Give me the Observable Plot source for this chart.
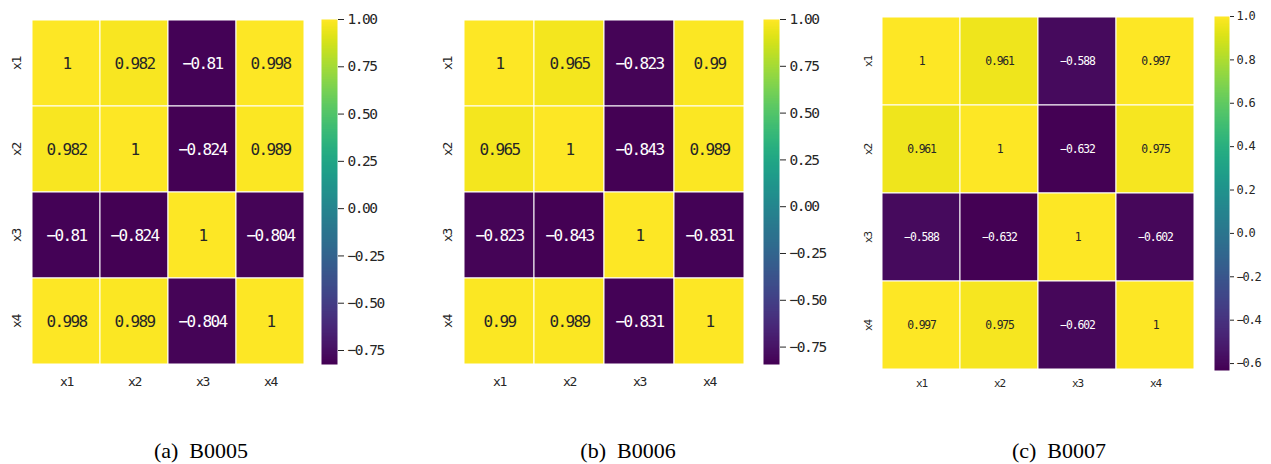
<!DOCTYPE html>
<html><head><meta charset="utf-8">
<script src="https://cdn.jsdelivr.net/npm/d3@7"></script>
<script src="https://cdn.jsdelivr.net/npm/@observablehq/plot@0.6"></script>
<style>
body{margin:0;background:#fff}
#root{position:relative;width:1271px;height:464px;overflow:hidden;background:#fff}
.p{position:absolute;top:0}
.p svg{overflow:visible;background:transparent}
.cap{position:absolute;top:440px;font-family:"Liberation Serif";font-size:22px;line-height:22px;white-space:pre;transform:translateX(-50%);color:#000}
</style></head><body><div id="root"></div>
<script>
// ---- data ----
const vars = ["x1", "x2", "x3", "x4"];
const corrB0005 = [
  [1, 0.982, -0.81, 0.998],
  [0.982, 1, -0.824, 0.989],
  [-0.81, -0.824, 1, -0.804],
  [0.998, 0.989, -0.804, 1]
];
const corrB0006 = [
  [1, 0.965, -0.823, 0.99],
  [0.965, 1, -0.843, 0.989],
  [-0.823, -0.843, 1, -0.831],
  [0.99, 0.989, -0.831, 1]
];
const corrB0007 = [
  [1, 0.961, -0.588, 0.997],
  [0.961, 1, -0.632, 0.975],
  [-0.588, -0.632, 1, -0.602],
  [0.997, 0.975, -0.602, 1]
];
const ticksAB = [1, 0.75, 0.5, 0.25, 0, -0.25, -0.5, -0.75];
const ticksC = [1, 0.8, 0.6, 0.4, 0.2, 0, -0.2, -0.4, -0.6];
const captions = ["(a)  B0005", "(b)  B0006", "(c)  B0007"];

// ---- layout ----
const panels = [
  {values: corrB0005, ticks: ticksAB, tfmt: ".2f", cap: captions[0], capX: 201,
   hm: {left: 0, width: 310, ml: 32, mr: 6, mt: 19, mb: 36, cell: 16, axis: 13, padX: 12, padY: 12},
   cb: {left: 300, width: 120, ml: 21, mr: 83, mt: 19, mb: 36, font: 14.5, tick: 6, pad: 4}},
  {values: corrB0006, ticks: ticksAB, tfmt: ".2f", cap: captions[1], capX: 628,
   hm: {left: 420, width: 330, ml: 43, mr: 5, mt: 19, mb: 36, cell: 16, axis: 13, padX: 12, padY: 12},
   cb: {left: 750, width: 120, ml: 13, mr: 91, mt: 19, mb: 36, font: 14.5, tick: 6, pad: 4}},
  {values: corrB0007, ticks: ticksC, tfmt: ".1f", cap: captions[2], capX: 1059,
   hm: {left: 840, width: 360, ml: 41, mr: 6, mt: 16, mb: 30, cell: 11.4, axis: 11, padX: 9, padY: 10},
   cb: {left: 1200, width: 71, ml: 14, mr: 42, mt: 16, mb: 30, font: 12, tick: 4, pad: 3}}
];

const root = document.getElementById("root");
const fmt = d3.format(".3~g");
const MONO = "'DejaVu Sans Mono', monospace";

function squeeze(svg) {
  svg.querySelectorAll("text").forEach(t => {
    const fs = parseFloat(getComputedStyle(t).fontSize);
    t.style.letterSpacing = (-0.1 * fs).toFixed(2) + "px";
  });
}
function place(el, left) {
  const d = document.createElement("div");
  d.className = "p";
  d.style.left = left + "px";
  d.appendChild(el);
  root.appendChild(d);
  return el;
}

for (const p of panels) {
  const vmin = d3.min(p.values.flat());
  const data = vars.flatMap((r, i) => vars.map((c, j) => ({row: r, col: c, v: p.values[i][j]})));
  const h = p.hm;
  const hm = Plot.plot({
    width: h.width, height: 400,
    marginLeft: h.ml, marginRight: h.mr, marginTop: h.mt, marginBottom: h.mb,
    x: {domain: vars, padding: 0, label: null},
    y: {domain: vars, padding: 0, label: null},
    color: {type: "linear", scheme: "viridis", domain: [vmin, 1]},
    style: {fontFamily: MONO, color: "#262626", background: "transparent"},
    marks: [
      Plot.cell(data, {x: "col", y: "row", fill: "v", stroke: "white", strokeWidth: 1}),
      Plot.text(data, {x: "col", y: "row", filter: d => d.v > 0, text: d => fmt(d.v), fill: "#262626", fontSize: h.cell}),
      Plot.text(data, {x: "col", y: "row", filter: d => d.v <= 0, text: d => fmt(d.v), fill: "white", fontSize: h.cell}),
      Plot.axisX({tickSize: 0, tickPadding: h.padX, fontSize: h.axis, label: null}),
      Plot.axisY({tickSize: 0, tickRotate: -90, tickPadding: h.padY, fontSize: h.axis, label: null})
    ]
  });
  place(hm, h.left);
  squeeze(hm);

  const c = p.cb;
  const cb = Plot.plot({
    width: c.width, height: 400,
    marginLeft: c.ml, marginRight: c.mr, marginTop: c.mt, marginBottom: c.mb,
    x: {domain: [0, 1], axis: null},
    y: {domain: [vmin, 1], axis: null},
    color: {type: "linear", scheme: "viridis", domain: [vmin, 1]},
    style: {fontFamily: MONO, color: "#262626", background: "transparent"},
    marks: [
      Plot.raster({fill: (x, y) => y, x1: 0, x2: 1, y1: vmin, y2: 1, width: 1, height: 400}),
      Plot.axisY({anchor: "right", ticks: p.ticks, tickFormat: d3.format(p.tfmt), tickSize: c.tick, tickPadding: c.pad, fontSize: c.font, label: null, stroke: "#262626"})
    ]
  });
  place(cb, c.left);
  squeeze(cb);

  const cap = document.createElement("div");
  cap.className = "cap";
  cap.style.left = p.capX + "px";
  cap.textContent = p.cap;
  root.appendChild(cap);
}
</script>
</body></html>
